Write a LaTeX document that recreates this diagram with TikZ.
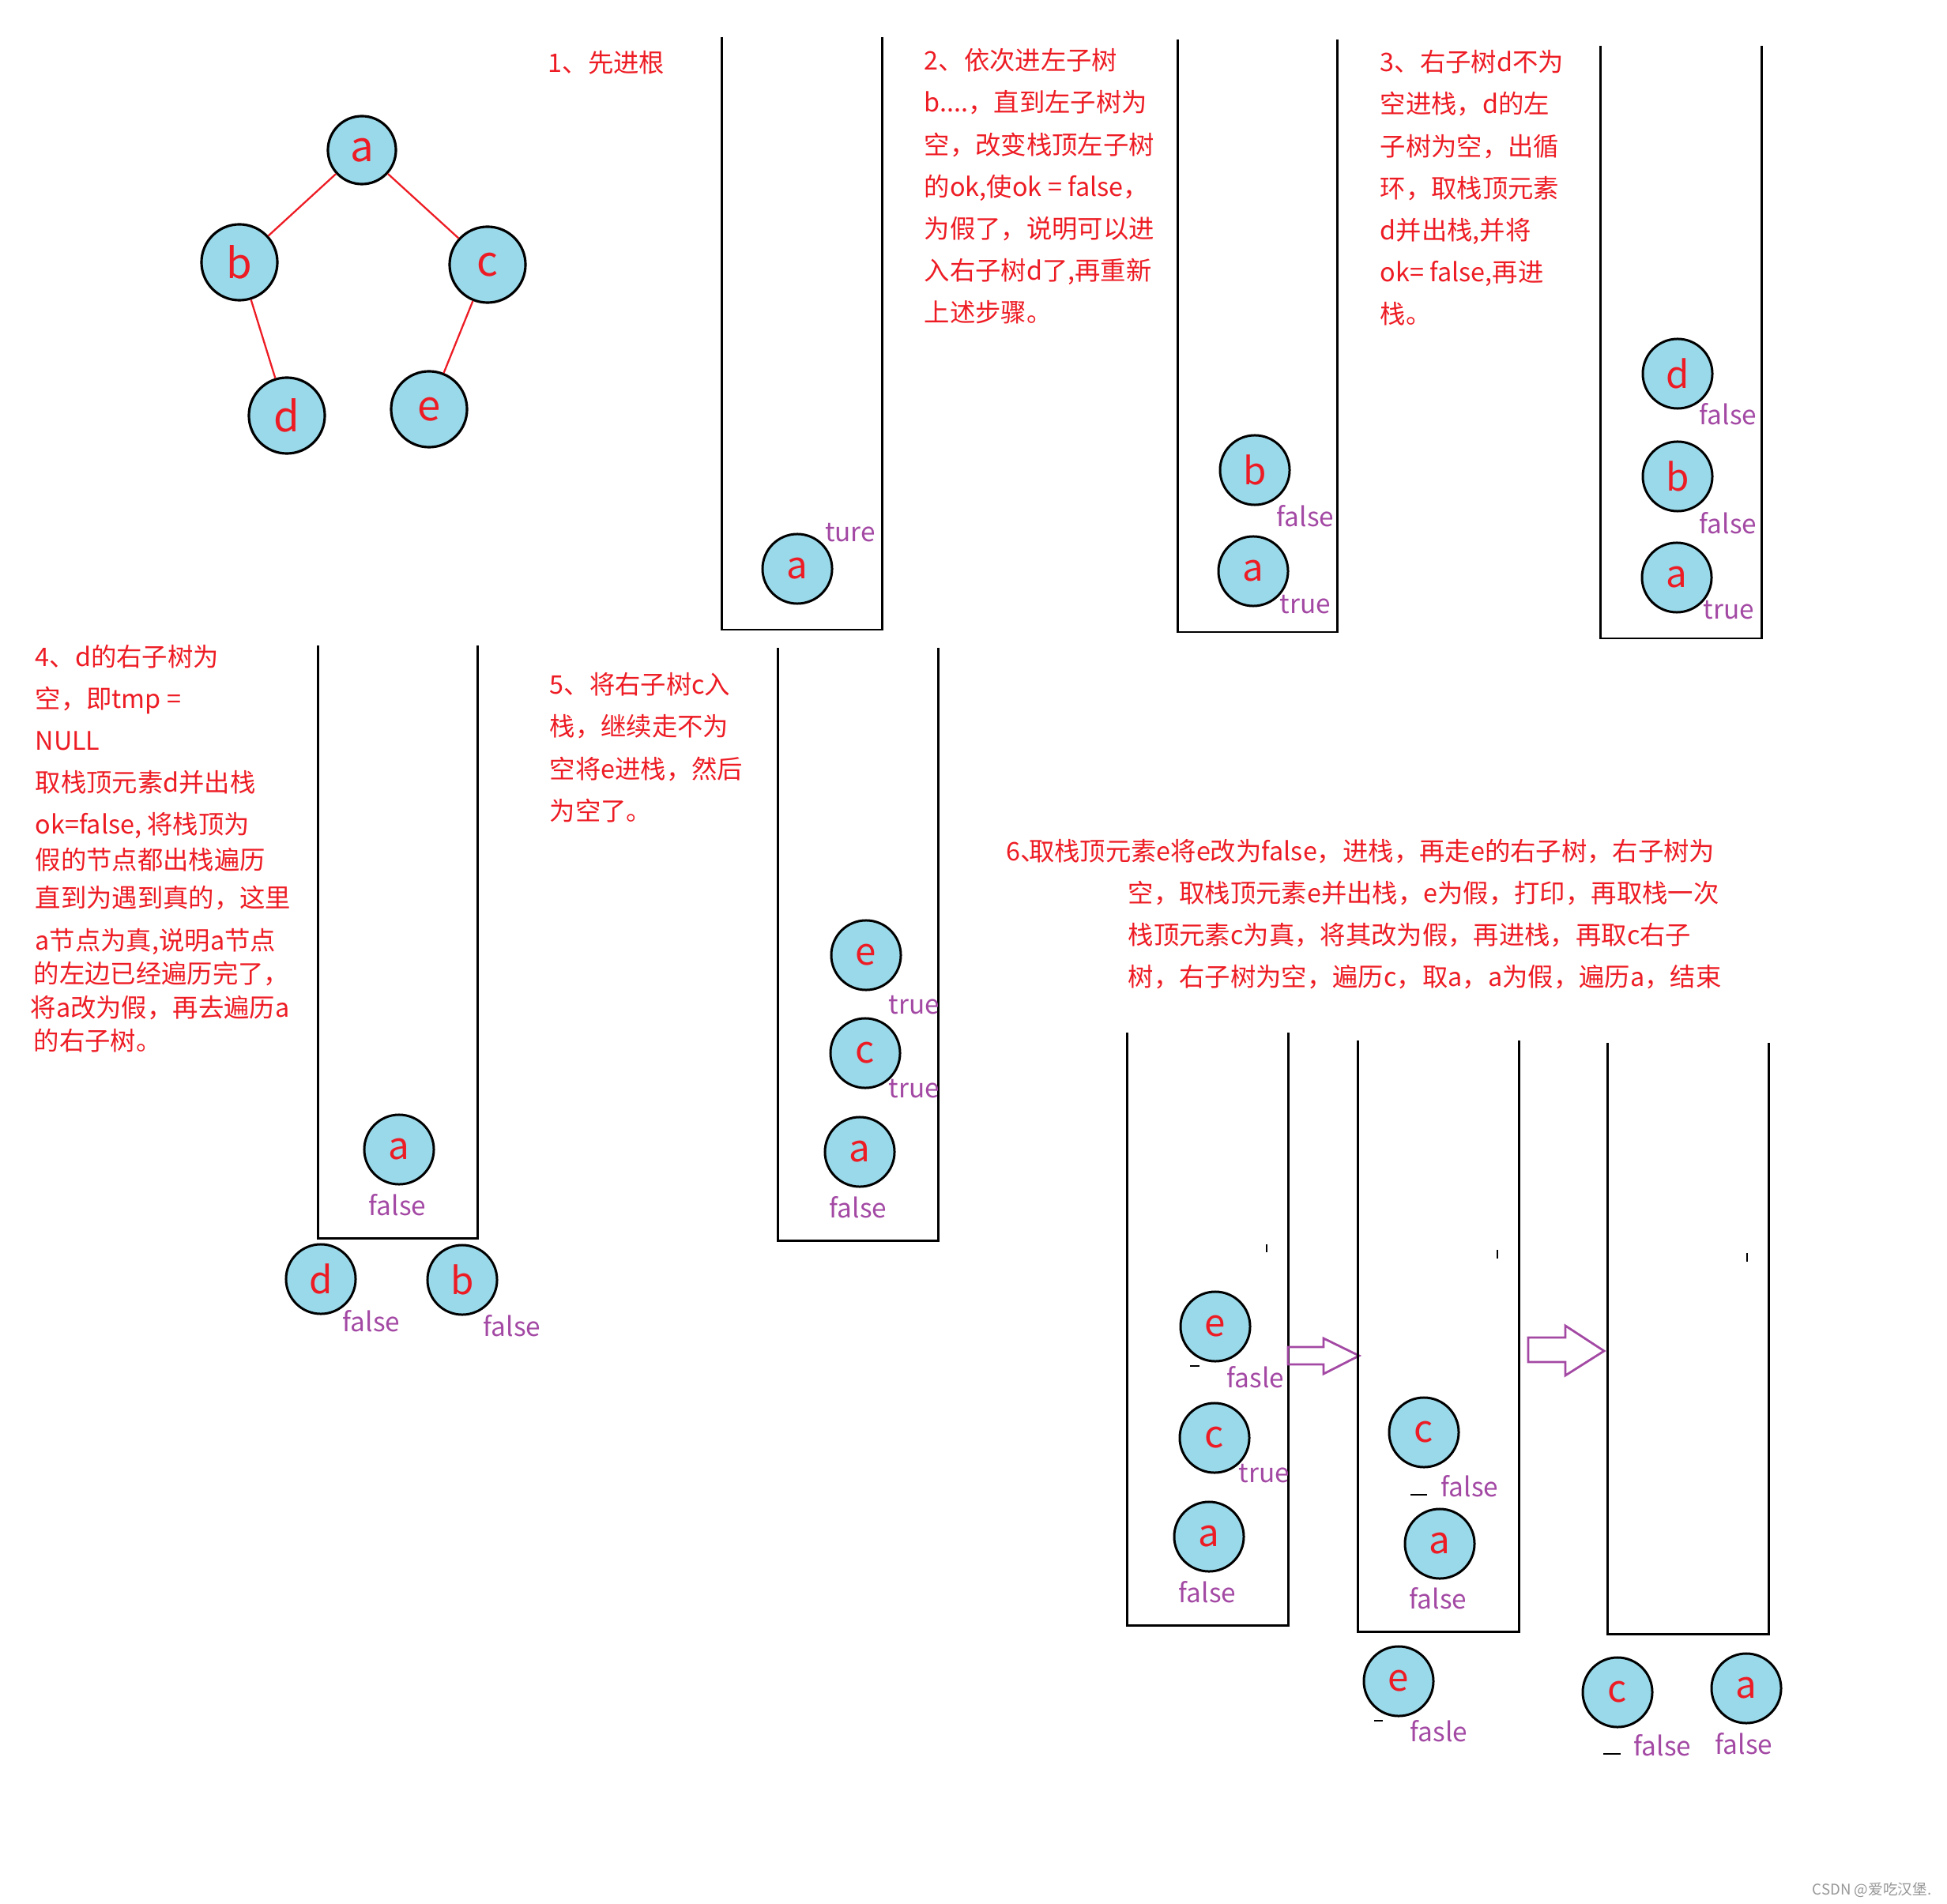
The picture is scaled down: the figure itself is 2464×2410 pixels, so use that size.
\documentclass[tikz,border=0pt]{standalone}
\usepackage{fontspec}
\setmainfont{Noto Sans CJK SC}
\definecolor{nodeblue}{RGB}{153,217,234}
\definecolor{notered}{RGB}{237,28,36}
\definecolor{flagpurple}{RGB}{163,73,164}
\definecolor{markgray}{RGB}{150,150,150}

\begin{document}
\begin{tikzpicture}[x=0.01cm,y=-0.01cm,
	treenode/.style={circle,draw=black,line width=0.9pt,fill=nodeblue,text=notered,
		minimum size=0.96cm,inner sep=0pt,font=\fontsize{15}{15}\selectfont},
	stacknode/.style={circle,draw=black,line width=0.85pt,fill=nodeblue,text=notered,
		minimum size=0.88cm,inner sep=0pt,font=\fontsize{13.5}{13.5}\selectfont},
	flag/.style={text=flagpurple,inner sep=0pt,font=\fontsize{9.5}{9.5}\selectfont},
	note/.style={text=notered,inner sep=0pt,anchor=north west,align=left,
		font=\fontsize{9.2}{15.1}\selectfont},
	wall/.style={line width=0.85pt},
	treeedge/.style={notered,line width=0.65pt},
	hollow/.style={flagpurple,line width=0.8pt,line join=miter},
	speck/.style={line width=0.4pt}]
	
	\useasboundingbox (0,0) rectangle (2464,2410);
	
	% Cây nhị phân
	\node[treenode,minimum size=0.86cm] (ta) at (458,190) {a};
	\node[treenode] (tb) at (303,332) {b};
	\node[treenode] (tc) at (617,335) {c};
	\node[treenode] (td) at (363,526) {d};
	\node[treenode] (te) at (543,518) {e};
	\draw[treeedge] (ta) -- (tb);
	\draw[treeedge] (ta) -- (tc);
	\draw[treeedge] (tb) -- (td);
	\draw[treeedge] (tc) -- (te);
	
	% Bước 1
	\node[note] (n1) at (693,64) {1、先进根};
	\draw[wall] (913,47) -- (913,797) -- (1116,797) -- (1116,47);
	\node[stacknode] (s1a) at (1009,720) {a};
	\node[flag] (f1a) at (1076,674) {ture};
	
	% Bước 2
	\node[note] (n2) at (1169,61) {2、依次进左子树\\b....，直到左子树为\\空，改变栈顶左子树\\的ok,使ok = false，\\为假了，说明可以进\\入右子树d了,再重新\\上述步骤。};
	\draw[wall] (1490,50) -- (1490,800) -- (1692,800) -- (1692,50);
	\node[stacknode] (s2b) at (1588,595) {b};
	\node[flag] (f2b) at (1652,653) {false};
	\node[stacknode] (s2a) at (1586,723) {a};
	\node[flag] (f2a) at (1652,765) {true};
	
	% Bước 3
	\node[note] (n3) at (1746,63) {3、右子树d不为\\空进栈，d的左\\子树为空，出循\\环，取栈顶元素\\d并出栈,并将\\ok= false,再进\\栈。};
	\draw[wall] (2025,58) -- (2025,808) -- (2229,808) -- (2229,58);
	\node[stacknode] (s3d) at (2123,473) {d};
	\node[flag] (f3d) at (2187,524) {false};
	\node[stacknode] (s3b) at (2123,603) {b};
	\node[flag] (f3b) at (2187,662) {false};
	\node[stacknode] (s3a) at (2122,731) {a};
	\node[flag] (f3a) at (2188,772) {true};
	
	% Bước 4
	\node[note] (n4) at (44,815) {4、d的右子树为\\空，即tmp =\\NULL\\取栈顶元素d并出栈\\ok=false, 将栈顶为\\[-2.2pt]假的节点都出栈遍历\\[-1.4pt]直到为遇到真的，这里\\a节点为真,说明a节点\\[-3pt]\hspace*{-0.02cm}的左边已经遍历完了，\\[-3pt]\hspace*{-0.06cm}将a改为假，再去遍历a\\[-3pt]\hspace*{-0.02cm}的右子树。};
	\draw[wall] (402,817) -- (402,1567) -- (604,1567) -- (604,817);
	\node[stacknode] (s4a) at (505,1455) {a};
	\node[flag] (f4a) at (503,1525) {false};
	\node[stacknode] (s4d) at (406,1619) {d};
	\node[flag] (f4d) at (470,1672) {false};
	\node[stacknode] (s4b) at (585,1620) {b};
	\node[flag] (f4b) at (648,1678) {false};
	
	% Bước 5
	\node[note] (n5) at (695,851) {5、将右子树c入\\栈，继续走不为\\空将e进栈，然后\\为空了。};
	\draw[wall] (984,820) -- (984,1570) -- (1187,1570) -- (1187,820);
	\node[stacknode] (s5e) at (1096,1209) {e};
	\node[flag] (f5e) at (1157,1272) {true};
	\node[stacknode] (s5c) at (1095,1333) {c};
	\node[flag] (f5c) at (1157,1378) {true};
	\node[stacknode] (s5a) at (1088,1458) {a};
	\node[flag] (f5a) at (1086,1528) {false};
	
	% Bước 6
	\node[note] (n6) at (1273,1061) {6、\hspace{-0.22cm}取栈顶元素e将e改为false，进栈，再走e的右子树，右子树为\\\hspace*{1.54cm}空，取栈顶元素e并出栈，e为假，打印，再取栈一次\\\hspace*{1.54cm}栈顶元素c为真，将其改为假，再进栈，再取c右子\\\hspace*{1.54cm}树，右子树为空，遍历c，取a，a为假，遍历a，结束};
	
	\draw[wall] (1426,1307) -- (1426,2057) -- (1630,2057) -- (1630,1307);
	\node[stacknode] (s6e) at (1538,1679) {e};
	\node[flag] (f6e) at (1589,1743) {fasle};
	\node[stacknode] (s6c) at (1537,1820) {c};
	\node[flag] (f6c) at (1600,1865) {true};
	\node[stacknode] (s6a) at (1530,1945) {a};
	\node[flag] (f6a) at (1528,2015) {false};
	\draw[speck] (1603,1575) -- (1603,1585);
	\draw[speck] (1506,1729) -- (1518,1729);
	
	\draw[hollow] (1630,1705) -- (1675,1705) -- (1675,1694) -- (1720,1716)
		-- (1675,1739) -- (1675,1727) -- (1630,1727) -- cycle;
	
	\draw[wall] (1718,1317) -- (1718,2065) -- (1922,2065) -- (1922,1317);
	\node[stacknode] (s7c) at (1802,1813) {c};
	\node[flag] (f7c) at (1860,1881) {false};
	\node[stacknode] (s7a) at (1822,1954) {a};
	\node[flag] (f7a) at (1820,2023) {false};
	\node[stacknode] (s7e) at (1770,2128) {e};
	\node[flag] (f7e) at (1821,2191) {fasle};
	\draw[speck] (1895,1582) -- (1895,1593);
	\draw[speck] (1785,1892) -- (1806,1892);
	\draw[speck] (1739,2178) -- (1750,2178);
	
	\draw[hollow] (1934,1693) -- (1981,1693) -- (1981,1678) -- (2030,1710)
		-- (1981,1741) -- (1981,1724) -- (1934,1724) -- cycle;
	
	\draw[wall] (2034,1320) -- (2034,2068) -- (2238,2068) -- (2238,1320);
	\node[stacknode] (s8c) at (2047,2142) {c};
	\node[flag] (f8c) at (2104,2209) {false};
	\node[stacknode] (s8a) at (2210,2137) {a};
	\node[flag] (f8a) at (2207,2207) {false};
	\draw[speck] (2211,1586) -- (2211,1597);
	\draw[speck] (2029,2220) -- (2051,2220);
	
	% Dấu mờ
	\node[text=markgray,inner sep=0pt,anchor=east,font=\fontsize{5.3}{5.3}\selectfont] (wm) at (2445,2392) {CSDN @爱吃汉堡.};
	
\end{tikzpicture}
\end{document}
